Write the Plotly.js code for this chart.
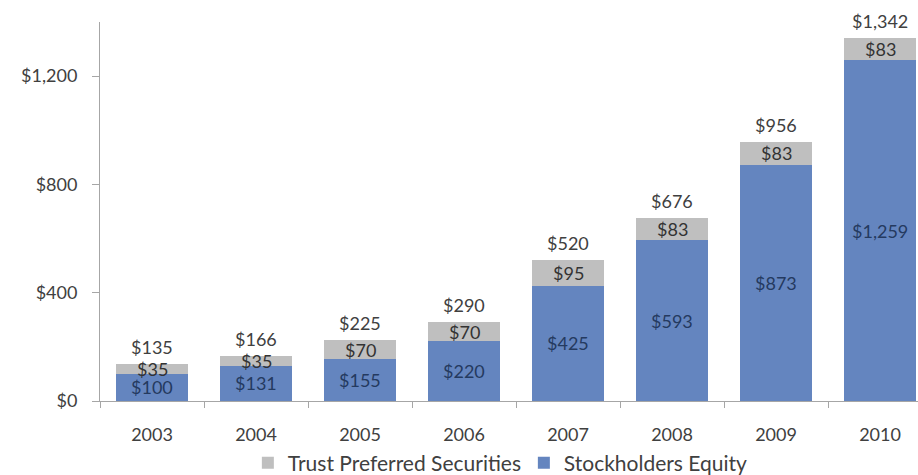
<!DOCTYPE html>
<html>
<head>
<meta charset="utf-8">
<script src="https://cdn.plot.ly/plotly-3.0.1.min.js"></script>
<style>
html,body{margin:0;padding:0;background:#fff;overflow:hidden;}
#chart{width:918px;height:475px;}
</style>
</head>
<body>
<div id="chart"></div>
<script>
const years = ["2003","2004","2005","2006","2007","2008","2009","2010"];
const equity = [100, 131, 155, 220, 425, 593, 873, 1259];
const trust = [35, 35, 70, 70, 95, 83, 83, 83];
const totals = [135, 166, 225, 290, 520, 676, 956, 1342];
const yTickVals = [0, 400, 800, 1200];
const yTickText = ["$0", "$400", "$800", "$1,200"];

const fmt = v => "$" + v.toLocaleString("en-US");
const FONT = "Lato, 'Open Sans', sans-serif";

const traces = [
  {type:"bar", name:"Stockholders Equity", x:years, y:equity,
   marker:{color:"#6485BF"}, hoverinfo:"none"},
  {type:"bar", name:"Trust Preferred Securities", x:years, y:trust,
   marker:{color:"#BFBFBF"}, hoverinfo:"none"}
];

const annotations = [];
years.forEach((yr, i) => {
  annotations.push({x:i, y:equity[i]/2, text:fmt(equity[i]), showarrow:false,
    xref:"x", yref:"y", font:{family:FONT, size:18, color:"#243A60"}});
  annotations.push({x:i, y:equity[i] + trust[i]/2, text:fmt(trust[i]), showarrow:false,
    xref:"x", yref:"y", font:{family:FONT, size:18, color:"#333333"}});
  annotations.push({x:i, y:totals[i], text:fmt(totals[i]), showarrow:false,
    xref:"x", yref:"y", yanchor:"bottom", yshift:4,
    font:{family:FONT, size:18, color:"#404040"}});
});

const layout = {
  width:918, height:475,
  margin:{l:100, r:0, t:22, b:74},
  barmode:"stack",
  bargap:0.31,
  paper_bgcolor:"#ffffff", plot_bgcolor:"#ffffff",
  font:{family:FONT, size:18, color:"#404040"},
  showlegend:true,
  legend:{orientation:"h", traceorder:"reversed", xref:"container", yref:"container",
    x:0.27, xanchor:"left", y:0.025, yanchor:"middle",
    font:{family:FONT, size:21, color:"#404040"},
    itemwidth:30, entrywidth:231, entrywidthmode:"pixels"},
  xaxis:{type:"category", range:[-0.5, 7.365], showline:true, linecolor:"#A6A6A6",
    linewidth:1, ticks:"outside", tickson:"boundaries", ticklen:6, tickcolor:"#A6A6A6",
    showgrid:false, zeroline:false, fixedrange:true, ticklabelstandoff:17,
    tickfont:{family:FONT, size:18, color:"#404040"}},
  yaxis:{range:[0, 1400], tickvals:yTickVals, ticktext:yTickText, showline:true,
    linecolor:"#A6A6A6", linewidth:1, ticks:"outside", ticklen:7, tickcolor:"#A6A6A6",
    showgrid:false, zeroline:false, fixedrange:true, ticklabelstandoff:11,
    tickfont:{family:FONT, size:18, color:"#404040"}},
  annotations:annotations
};

Plotly.newPlot("chart", traces, layout, {displayModeBar:false, staticPlot:true});
</script>
</body>
</html>
